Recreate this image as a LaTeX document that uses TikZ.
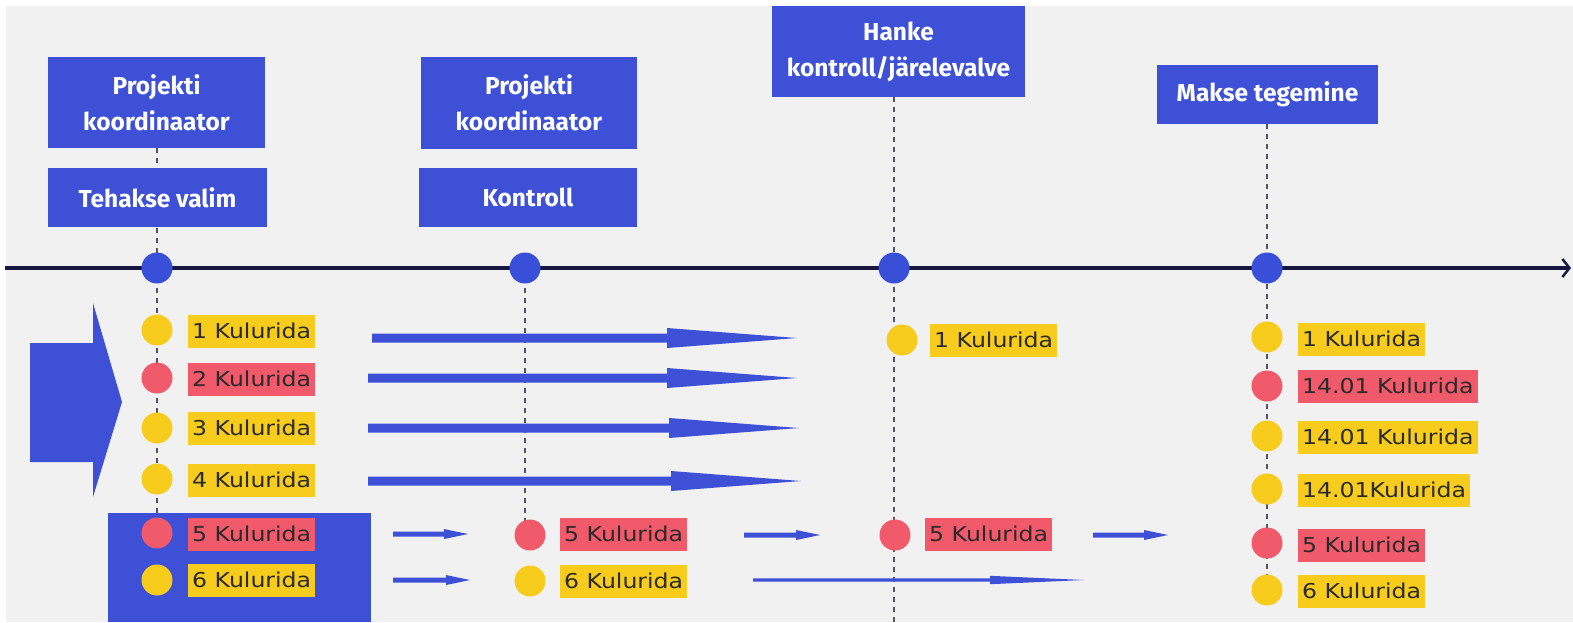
\documentclass[tikz,border=0pt]{standalone}
\usepackage{fontspec}
\usetikzlibrary{arrows.meta,calc}
\newfontfamily\titlefont{Fira Sans}
\newfontfamily\labelfont{DejaVu Sans}[FakeStretch=1.15]
\definecolor{mblue}{HTML}{3D50D6}
\definecolor{dotblue}{HTML}{3A4FD8}
\definecolor{myel}{HTML}{F8CC1C}
\definecolor{mred}{HTML}{F15A6B}
\definecolor{navy}{HTML}{16163E}
\definecolor{bg}{HTML}{F1F1F2}
\definecolor{dashgray}{HTML}{55555F}
\definecolor{txt}{HTML}{2A2A2A}
\tikzset{
  tbox/.style={fill=mblue, text=white, align=center, inner sep=0pt,
    font=\titlefont\bfseries\fontsize{24.5}{36}\selectfont},
  dotc/.style={circle, fill=dotblue, minimum size=31pt, inner sep=0pt},
  ydot/.style={circle, fill=myel, minimum size=31pt, inner sep=0pt},
  rdot/.style={circle, fill=mred, minimum size=31pt, inner sep=0pt},
  ylab/.style={fill=myel, text=txt, anchor=west, inner xsep=4pt, minimum height=33pt,
    font=\labelfont\fontsize{20.5}{22}\selectfont},
  rlab/.style={ylab, fill=mred},
  vdash/.style={draw=dashgray, line width=1.6pt, dash pattern=on 5pt off 5pt},
  timeline/.style={draw=navy, line width=3.5pt, -{Straight Barb[length=7pt,width=18pt,line width=2.5pt]}},
}
% tapered arrow between two named coordinates (horizontal)
\newcommand\taperarrow[5]{%
  \fill[mblue] ($(#1)+(0,#3)$) -- ($(#2)+(-#4,#3)$) -- ($(#2)+(-#4,#5)$) -- (#2)
    -- ($(#2)+(-#4,-#5)$) -- ($(#2)+(-#4,-#3)$) -- ($(#1)+(0,-#3)$) -- cycle;}
\begin{document}
\begin{tikzpicture}[x=1pt, y=-1pt]
\useasboundingbox (0,0) rectangle (1573,622);
\fill[white] (0,0) rectangle (1573,622);
\fill[bg] (6,6) rectangle (1573,622);

% dashed verticals
\draw[vdash] (157,148) -- (157,592);
\draw[vdash] (525,268) -- (525,535);
\draw[vdash] (894,97) -- (894,622);
\draw[vdash] (1267,124) -- (1267,600);

% big left arrow and blue panel
\fill[mblue] (30,343) -- (93,343) -- (93,303) -- (122,402) -- (93,497) -- (93,462) -- (30,462) -- cycle;
\fill[mblue] (108,513) rectangle (371,622);

% title boxes
\node[tbox, minimum width=217pt, minimum height=91pt] (b1) at (156.5,102.5) {Projekti\\koordinaator};
\node[tbox, minimum width=219pt, minimum height=59pt] (b2) at (157.5,197.5) {Tehakse valim};
\node[tbox, minimum width=216pt, minimum height=92pt] (b3) at (529,103) {Projekti\\koordinaator};
\node[tbox, minimum width=218pt, minimum height=59pt] (b4) at (528,197.5) {Kontroll};
\node[tbox, minimum width=253pt, minimum height=91pt] (b5) at (898.5,51.5) {Hanke\\kontroll/järelevalve};
\node[tbox, minimum width=221pt, minimum height=59pt] (b6) at (1267.5,94.5) {Makse tegemine};

% timeline
\coordinate (tl0) at (5,268);
\coordinate (tl1) at (1571,268);
\draw[timeline] (tl0) -- (tl1);
\node[dotc] (d1) at (157,268) {};
\node[dotc] (d2) at (525,268) {};
\node[dotc] (d3) at (894,268) {};
\node[dotc] (d4) at (1267,268) {};

% column 1
\node[ydot] (c1a) at (157,330) {};
\node[rdot] (c1b) at (157,378) {};
\node[ydot] (c1c) at (157,428) {};
\node[ydot] (c1d) at (157,479) {};
\node[rdot] (c1e) at (157,533) {};
\node[ydot] (c1f) at (157,580) {};
\node[ylab] (l1a) at (188,331) {1 Kulurida};
\node[rlab] (l1b) at (188,379) {2 Kulurida};
\node[ylab] (l1c) at (188,428) {3 Kulurida};
\node[ylab] (l1d) at (188,480) {4 Kulurida};
\node[rlab] (l1e) at (188,534) {5 Kulurida};
\node[ylab] (l1f) at (188,580) {6 Kulurida};

% column 2
\node[rdot] (c2e) at (530,535) {};
\node[ydot] (c2f) at (530,581) {};
\node[rlab] (l2e) at (560,534) {5 Kulurida};
\node[ylab] (l2f) at (560,581) {6 Kulurida};

% column 3
\node[ydot] (c3a) at (902,340) {};
\node[rdot] (c3e) at (895,535) {};
\node[ylab] (l3a) at (930,340) {1 Kulurida};
\node[rlab] (l3e) at (925,534) {5 Kulurida};

% column 4
\node[ydot] (c4a) at (1267,337) {};
\node[rdot] (c4b) at (1267,386) {};
\node[ydot] (c4c) at (1267,436) {};
\node[ydot] (c4d) at (1267,489) {};
\node[rdot] (c4e) at (1267,543) {};
\node[ydot] (c4f) at (1267,590) {};
\node[ylab] (l4a) at (1298,339) {1 Kulurida};
\node[rlab] (l4b) at (1298,386) {14.01 Kulurida};
\node[ylab] (l4c) at (1298,437) {14.01 Kulurida};
\node[ylab] (l4d) at (1298,490) {14.01Kulurida};
\node[rlab] (l4e) at (1298,545) {5 Kulurida};
\node[ylab] (l4f) at (1298,591) {6 Kulurida};

% long arrows
\coordinate (a1s) at (372,338); \coordinate (a1e) at (797,338);
\coordinate (a2s) at (368,378); \coordinate (a2e) at (797,378);
\coordinate (a3s) at (368,428); \coordinate (a3e) at (799,428);
\coordinate (a4s) at (368,481); \coordinate (a4e) at (801,481);
\taperarrow{a1s}{a1e}{4.5}{130}{10}
\taperarrow{a2s}{a2e}{4.5}{130}{10}
\taperarrow{a3s}{a3e}{4.5}{130}{10}
\taperarrow{a4s}{a4e}{4.5}{130}{10}

% small arrows
\coordinate (s1s) at (393,534); \coordinate (s1e) at (468,534);
\coordinate (s2s) at (393,580); \coordinate (s2e) at (470,580);
\coordinate (s3s) at (744,535); \coordinate (s3e) at (820,535);
\coordinate (s4s) at (1093,535); \coordinate (s4e) at (1168,535);
\taperarrow{s1s}{s1e}{2.5}{24}{5}
\taperarrow{s2s}{s2e}{2.5}{24}{5}
\taperarrow{s3s}{s3e}{2.5}{24}{5}
\taperarrow{s4s}{s4e}{2.5}{24}{5}

% thin long arrow
\coordinate (t1s) at (753,580); \coordinate (t1e) at (1084,580);
\taperarrow{t1s}{t1e}{1.6}{94}{4.2}
\end{tikzpicture}
\end{document}
